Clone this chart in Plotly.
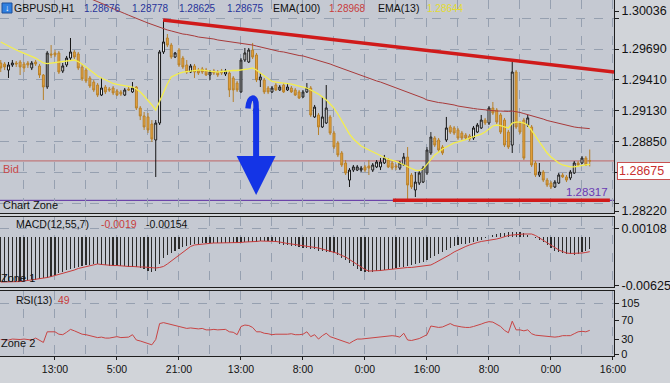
import plotly.graph_objects as go

# ---------------- data ----------------
bars = list(range(153))

open_ = [1.29564, 1.29555, 1.29500, 1.29546, 1.29564, 1.29573, 1.29555, 1.29564, 1.29519, 1.29573,
         1.29537, 1.29455, 1.29346, 1.29646, 1.29655, 1.29655, 1.29491, 1.29546, 1.29609, 1.29664,
         1.29646, 1.29528, 1.29500, 1.29428, 1.29391, 1.29364, 1.29273, 1.29346, 1.29328, 1.29337,
         1.29310, 1.29301, 1.29273, 1.29328, 1.29301, 1.29346, 1.29155, 1.29083, 1.29074, 1.29010,
         1.28865, 1.29019, 1.29664, 1.29791, 1.29727, 1.29618, 1.29682, 1.29609, 1.29546, 1.29482,
         1.29537, 1.29500, 1.29510, 1.29500, 1.29455, 1.29491, 1.29482, 1.29491, 1.29464, 1.29473,
         1.29428, 1.29382, 1.29301, 1.29591, 1.29573, 1.29682, 1.29637, 1.29410, 1.29410, 1.29337,
         1.29301, 1.29364, 1.29319, 1.29364, 1.29319, 1.29337, 1.29319, 1.29301, 1.29255, 1.29301,
         1.29337, 1.29074, 1.29092, 1.28983, 1.29019, 1.29074, 1.28928, 1.28838, 1.28747, 1.28656,
         1.28501, 1.28592, 1.28592, 1.28592, 1.28620, 1.28629, 1.28592, 1.28620, 1.28620, 1.28656,
         1.28683, 1.28656, 1.28629, 1.28610, 1.28638, 1.28710, 1.28547, 1.28411, 1.28474, 1.28483,
         1.28565, 1.28747, 1.28883, 1.28865, 1.28801, 1.28865, 1.28983, 1.28974, 1.28956, 1.28928,
         1.28910, 1.28901, 1.28883, 1.28937, 1.28974, 1.29046, 1.29019, 1.29155, 1.29137, 1.29092,
         1.29046, 1.28937, 1.28819, 1.29482, 1.29019, 1.29046, 1.29001, 1.28983, 1.28656, 1.28547,
         1.28574, 1.28501, 1.28474, 1.28438, 1.28474, 1.28547, 1.28529, 1.28520, 1.28565, 1.28656,
         1.28656, 1.28701, 1.28676]

high = [1.29591, 1.29573, 1.29573, 1.29591, 1.29582, 1.29591, 1.29573, 1.29582, 1.29582, 1.29591,
        1.29555, 1.29464, 1.29673, 1.29727, 1.29682, 1.29673, 1.29564, 1.29628, 1.29791, 1.29682,
        1.29664, 1.29555, 1.29519, 1.29446, 1.29410, 1.29382, 1.29428, 1.29364, 1.29346, 1.29355,
        1.29328, 1.29319, 1.29337, 1.29346, 1.29391, 1.29355, 1.29173, 1.29119, 1.29110, 1.29046,
        1.29046, 1.29682, 1.29954, 1.29827, 1.29746, 1.29664, 1.29700, 1.29628, 1.29591, 1.29555,
        1.29555, 1.29519, 1.29528, 1.29519, 1.29500, 1.29510, 1.29500, 1.29510, 1.29510, 1.29491,
        1.29446, 1.29401, 1.29609, 1.29700, 1.29700, 1.29746, 1.29655, 1.29473, 1.29428, 1.29355,
        1.29355, 1.29382, 1.29364, 1.29382, 1.29382, 1.29355, 1.29337, 1.29319, 1.29319, 1.29382,
        1.29355, 1.29183, 1.29110, 1.29255, 1.29364, 1.29092, 1.28947, 1.28856, 1.28765, 1.28683,
        1.28610, 1.28638, 1.28638, 1.28629, 1.28638, 1.28683, 1.28656, 1.28683, 1.28701, 1.28729,
        1.28701, 1.28674, 1.28647, 1.28674, 1.28747, 1.28801, 1.28565, 1.28574, 1.28583, 1.28629,
        1.28801, 1.28937, 1.28901, 1.28883, 1.28819, 1.29074, 1.29001, 1.28992, 1.28974, 1.28947,
        1.28928, 1.28919, 1.28992, 1.29019, 1.29092, 1.29065, 1.29173, 1.29210, 1.29155, 1.29110,
        1.29065, 1.28956, 1.29573, 1.29500, 1.29037, 1.29065, 1.29092, 1.29001, 1.28674, 1.28656,
        1.28592, 1.28520, 1.28492, 1.28501, 1.28565, 1.28565, 1.28547, 1.28592, 1.28674, 1.28674,
        1.28719, 1.28719, 1.28778]

low = [1.29482, 1.29500, 1.29428, 1.29528, 1.29528, 1.29455, 1.29482, 1.29519, 1.29500, 1.29537,
       1.29428, 1.29228, 1.29328, 1.29609, 1.29618, 1.29464, 1.29473, 1.29528, 1.29591, 1.29600,
       1.29500, 1.29401, 1.29382, 1.29337, 1.29301, 1.29255, 1.29264, 1.29282, 1.29301, 1.29273,
       1.29264, 1.29264, 1.29264, 1.29310, 1.29292, 1.29137, 1.29046, 1.28956, 1.28928, 1.28847,
       1.28529, 1.29001, 1.29646, 1.29709, 1.29600, 1.29609, 1.29528, 1.29510, 1.29464, 1.29473,
       1.29428, 1.29455, 1.29464, 1.29446, 1.29410, 1.29455, 1.29437, 1.29455, 1.29446, 1.29255,
       1.29210, 1.29301, 1.29292, 1.29573, 1.29564, 1.29600, 1.29391, 1.29346, 1.29282, 1.29282,
       1.29292, 1.29310, 1.29310, 1.29292, 1.29310, 1.29292, 1.29264, 1.29237, 1.29246, 1.29292,
       1.29074, 1.29065, 1.28910, 1.28974, 1.29010, 1.28910, 1.28783, 1.28710, 1.28620, 1.28547,
       1.28438, 1.28574, 1.28583, 1.28574, 1.28574, 1.28547, 1.28574, 1.28610, 1.28592, 1.28647,
       1.28610, 1.28592, 1.28592, 1.28592, 1.28629, 1.28320, 1.28420, 1.28347, 1.28456, 1.28474,
       1.28547, 1.28729, 1.28801, 1.28756, 1.28729, 1.28847, 1.28919, 1.28910, 1.28865, 1.28865,
       1.28865, 1.28856, 1.28865, 1.28928, 1.28965, 1.29001, 1.29001, 1.29092, 1.29010, 1.28919,
       1.28801, 1.28783, 1.28747, 1.28965, 1.28919, 1.28683, 1.28983, 1.28620, 1.28529, 1.28529,
       1.28483, 1.28438, 1.28420, 1.28429, 1.28465, 1.28520, 1.28483, 1.28501, 1.28556, 1.28629,
       1.28647, 1.28629, 1.28625]

close = [1.29519, 1.29528, 1.29546, 1.29564, 1.29555, 1.29528, 1.29519, 1.29546, 1.29564, 1.29555,
         1.29455, 1.29346, 1.29655, 1.29637, 1.29637, 1.29482, 1.29537, 1.29609, 1.29664, 1.29618,
         1.29519, 1.29419, 1.29401, 1.29355, 1.29319, 1.29273, 1.29337, 1.29301, 1.29319, 1.29292,
         1.29273, 1.29282, 1.29319, 1.29319, 1.29337, 1.29155, 1.29083, 1.28983, 1.28956, 1.28874,
         1.29019, 1.29664, 1.29755, 1.29727, 1.29618, 1.29655, 1.29546, 1.29528, 1.29482, 1.29537,
         1.29482, 1.29473, 1.29482, 1.29455, 1.29482, 1.29473, 1.29455, 1.29473, 1.29491, 1.29319,
         1.29319, 1.29319, 1.29591, 1.29655, 1.29682, 1.29618, 1.29410, 1.29437, 1.29301, 1.29301,
         1.29337, 1.29319, 1.29346, 1.29301, 1.29346, 1.29301, 1.29273, 1.29246, 1.29301, 1.29337,
         1.29092, 1.29164, 1.28983, 1.29074, 1.29155, 1.28928, 1.28801, 1.28729, 1.28638, 1.28565,
         1.28592, 1.28620, 1.28620, 1.28610, 1.28592, 1.28610, 1.28638, 1.28665, 1.28665, 1.28701,
         1.28620, 1.28610, 1.28620, 1.28656, 1.28710, 1.28456, 1.28438, 1.28483, 1.28565, 1.28610,
         1.28774, 1.28892, 1.28819, 1.28774, 1.28747, 1.28974, 1.28937, 1.28928, 1.28883, 1.28883,
         1.28883, 1.28874, 1.28974, 1.29001, 1.29046, 1.29019, 1.29155, 1.29110, 1.29028, 1.28937,
         1.28819, 1.28801, 1.29482, 1.28983, 1.28937, 1.28701, 1.29065, 1.28638, 1.28547, 1.28574,
         1.28501, 1.28456, 1.28438, 1.28483, 1.28547, 1.28529, 1.28501, 1.28574, 1.28656, 1.28638,
         1.28701, 1.28638, 1.28675]

# bullish bars the platform paints grey instead of white
grey_bars = [12, 62, 78, 110, 111]

ema100 = [1.30463, 1.30449, 1.30436, 1.30422, 1.30408, 1.30395, 1.30381, 1.30368, 1.30354, 1.30340,
          1.30327, 1.30313, 1.30299, 1.30286, 1.30272, 1.30259, 1.30245, 1.30231, 1.30218, 1.30204,
          1.30190, 1.30177, 1.30163, 1.30150, 1.30136, 1.30122, 1.30109, 1.30091, 1.30072, 1.30059,
          1.30045, 1.30027, 1.30013, 1.29998, 1.29982, 1.29968, 1.29954, 1.29941, 1.29927, 1.29914,
          1.29900, 1.29891, 1.29873, 1.29864, 1.29855, 1.29845, 1.29836, 1.29827, 1.29823, 1.29818,
          1.29809, 1.29800, 1.29796, 1.29791, 1.29786, 1.29782, 1.29773, 1.29768, 1.29764, 1.29759,
          1.29755, 1.29750, 1.29746, 1.29741, 1.29736, 1.29727, 1.29718, 1.29709, 1.29700, 1.29691,
          1.29682, 1.29677, 1.29668, 1.29664, 1.29655, 1.29646, 1.29641, 1.29632, 1.29628, 1.29618,
          1.29609, 1.29600, 1.29591, 1.29578, 1.29564, 1.29555, 1.29541, 1.29528, 1.29514, 1.29500,
          1.29491, 1.29478, 1.29464, 1.29450, 1.29437, 1.29428, 1.29414, 1.29401, 1.29391, 1.29378,
          1.29364, 1.29355, 1.29341, 1.29328, 1.29314, 1.29301, 1.29287, 1.29273, 1.29260, 1.29246,
          1.29228, 1.29219, 1.29210, 1.29205, 1.29201, 1.29196, 1.29192, 1.29183, 1.29173, 1.29169,
          1.29164, 1.29155, 1.29151, 1.29146, 1.29142, 1.29137, 1.29137, 1.29133, 1.29128, 1.29128,
          1.29124, 1.29124, 1.29128, 1.29124, 1.29115, 1.29105, 1.29096, 1.29087, 1.29074, 1.29065,
          1.29055, 1.29042, 1.29033, 1.29024, 1.29015, 1.29006, 1.28996, 1.28992, 1.28983, 1.28978,
          1.28974, 1.28969, 1.28968]

ema13 = [1.29755, 1.29736, 1.29718, 1.29700, 1.29682, 1.29668, 1.29655, 1.29641, 1.29628, 1.29609,
         1.29587, 1.29564, 1.29559, 1.29564, 1.29568, 1.29573, 1.29577, 1.29582, 1.29591, 1.29591,
         1.29577, 1.29555, 1.29528, 1.29500, 1.29473, 1.29446, 1.29428, 1.29410, 1.29391, 1.29378,
         1.29369, 1.29364, 1.29355, 1.29351, 1.29346, 1.29328, 1.29301, 1.29264, 1.29228, 1.29183,
         1.29137, 1.29219, 1.29292, 1.29373, 1.29437, 1.29455, 1.29469, 1.29482, 1.29487, 1.29491,
         1.29496, 1.29500, 1.29500, 1.29496, 1.29491, 1.29487, 1.29482, 1.29487, 1.29491, 1.29491,
         1.29496, 1.29496, 1.29500, 1.29500, 1.29510, 1.29519, 1.29500, 1.29473, 1.29446, 1.29419,
         1.29396, 1.29391, 1.29387, 1.29382, 1.29382, 1.29373, 1.29364, 1.29355, 1.29346, 1.29337,
         1.29319, 1.29301, 1.29282, 1.29255, 1.29228, 1.29192, 1.29155, 1.29101, 1.29037, 1.28974,
         1.28919, 1.28874, 1.28838, 1.28810, 1.28792, 1.28774, 1.28756, 1.28738, 1.28719, 1.28706,
         1.28692, 1.28683, 1.28670, 1.28656, 1.28638, 1.28620, 1.28606, 1.28592, 1.28588, 1.28601,
         1.28647, 1.28692, 1.28729, 1.28756, 1.28783, 1.28801, 1.28819, 1.28838, 1.28847, 1.28856,
         1.28869, 1.28883, 1.28892, 1.28906, 1.28919, 1.28937, 1.28965, 1.28992, 1.29001, 1.28996,
         1.28983, 1.28974, 1.29019, 1.29028, 1.29028, 1.29019, 1.29001, 1.28956, 1.28901, 1.28847,
         1.28792, 1.28747, 1.28710, 1.28683, 1.28656, 1.28638, 1.28629, 1.28620, 1.28620, 1.28624,
         1.28629, 1.28638, 1.28644]

macd_hist = [-0.00580, -0.00580, -0.00580, -0.00580, -0.00580, -0.00574, -0.00567, -0.00560, -0.00554, -0.00548,
             -0.00541, -0.00529, -0.00522, -0.00510, -0.00490, -0.00470, -0.00451, -0.00426, -0.00413, -0.00400,
             -0.00387, -0.00374, -0.00361, -0.00355, -0.00348, -0.00348, -0.00355, -0.00361, -0.00368, -0.00374,
             -0.00374, -0.00380, -0.00380, -0.00387, -0.00387, -0.00393, -0.00400, -0.00413, -0.00439, -0.00451,
             -0.00439, -0.00348, -0.00271, -0.00233, -0.00207, -0.00175, -0.00156, -0.00136, -0.00117, -0.00104,
             -0.00091, -0.00085, -0.00078, -0.00078, -0.00078, -0.00078, -0.00078, -0.00078, -0.00078, -0.00078,
             -0.00078, -0.00078, -0.00072, -0.00066, -0.00066, -0.00066, -0.00066, -0.00059, -0.00053, -0.00053,
             -0.00059, -0.00072, -0.00085, -0.00104, -0.00110, -0.00117, -0.00123, -0.00130, -0.00143, -0.00149,
             -0.00156, -0.00162, -0.00175, -0.00181, -0.00188, -0.00200, -0.00207, -0.00233, -0.00271, -0.00297,
             -0.00336, -0.00374, -0.00413, -0.00439, -0.00451, -0.00451, -0.00445, -0.00439, -0.00432, -0.00426,
             -0.00419, -0.00413, -0.00400, -0.00393, -0.00387, -0.00380, -0.00361, -0.00348, -0.00336, -0.00323,
             -0.00297, -0.00265, -0.00246, -0.00220, -0.00194, -0.00168, -0.00143, -0.00123, -0.00104, -0.00091,
             -0.00085, -0.00078, -0.00066, -0.00053, -0.00040, -0.00020, 0.00000, 0.00018, 0.00037, 0.00044,
             0.00050, 0.00057, 0.00063, 0.00063, 0.00057, 0.00044, 0.00024, 0.00005, -0.00020, -0.00040,
             -0.00072, -0.00104, -0.00143, -0.00175, -0.00194, -0.00207, -0.00220, -0.00226, -0.00233, -0.00220,
             -0.00200, -0.00180, -0.00158]

macd_signal = [-0.00580, -0.00580, -0.00580, -0.00580, -0.00580, -0.00574, -0.00567, -0.00560, -0.00554, -0.00548,
               -0.00541, -0.00535, -0.00522, -0.00510, -0.00497, -0.00477, -0.00464, -0.00451, -0.00439, -0.00426,
               -0.00406, -0.00393, -0.00380, -0.00368, -0.00355, -0.00348, -0.00355, -0.00361, -0.00361, -0.00368,
               -0.00368, -0.00374, -0.00374, -0.00380, -0.00380, -0.00387, -0.00387, -0.00387, -0.00393, -0.00393,
               -0.00400, -0.00393, -0.00380, -0.00348, -0.00310, -0.00271, -0.00233, -0.00188, -0.00149, -0.00123,
               -0.00104, -0.00098, -0.00091, -0.00085, -0.00085, -0.00078, -0.00078, -0.00078, -0.00078, -0.00078,
               -0.00078, -0.00072, -0.00072, -0.00066, -0.00066, -0.00059, -0.00059, -0.00053, -0.00053, -0.00053,
               -0.00053, -0.00059, -0.00066, -0.00078, -0.00085, -0.00091, -0.00098, -0.00104, -0.00110, -0.00117,
               -0.00130, -0.00136, -0.00143, -0.00156, -0.00168, -0.00181, -0.00194, -0.00213, -0.00239, -0.00258,
               -0.00291, -0.00323, -0.00361, -0.00393, -0.00419, -0.00439, -0.00439, -0.00432, -0.00432, -0.00426,
               -0.00419, -0.00413, -0.00406, -0.00400, -0.00400, -0.00393, -0.00393, -0.00387, -0.00387, -0.00380,
               -0.00374, -0.00361, -0.00336, -0.00310, -0.00284, -0.00258, -0.00226, -0.00194, -0.00168, -0.00143,
               -0.00123, -0.00104, -0.00085, -0.00072, -0.00059, -0.00053, -0.00046, -0.00040, -0.00027, -0.00014,
               0.00005, 0.00018, 0.00024, 0.00031, 0.00037, 0.00037, 0.00037, 0.00037, 0.00018, -0.00014,
               -0.00046, -0.00078, -0.00110, -0.00143, -0.00168, -0.00188, -0.00207, -0.00213, -0.00213, -0.00213,
               -0.00207, -0.00200, -0.00190]

rsi = [30, 30, 29, 31, 30, 30, 31, 30, 29, 33,
       28, 24, 46, 46, 46, 41, 40, 45, 51, 48,
       45, 41, 40, 38, 36, 34, 35, 33, 33, 35,
       36, 34, 34, 35, 40, 29, 27, 24, 22, 19,
       30, 63, 65, 63, 60, 59, 57, 55, 53, 54,
       53, 52, 53, 50, 50, 51, 50, 50, 51, 46,
       45, 40, 57, 60, 59, 55, 46, 46, 43, 42,
       40, 41, 41, 40, 41, 42, 40, 40, 41, 46,
       36, 40, 31, 38, 43, 36, 33, 30, 27, 25,
       22, 27, 31, 31, 32, 32, 33, 34, 35, 36,
       37, 38, 37, 35, 43, 29, 28, 30, 32, 36,
       40, 58, 56, 55, 56, 60, 63, 59, 57, 56,
       55, 55, 57, 59, 62, 65, 67, 66, 62, 57,
       49, 44, 68, 50, 50, 48, 50, 42, 39, 38,
       38, 37, 35, 35, 36, 38, 38, 38, 42, 46,
       47, 46, 49]

time_label_bars = [14, 30, 46, 62, 78, 94, 110, 126, 142, 158]
time_labels = ["13:00", "5:00", "21:00", "13:00", "8:00", "0:00", "16:00", "8:00", "0:00", "16:00"]
minor_grid_bars = [6, 22, 38, 54, 70, 86, 102, 118, 134, 150]

price_grid = [1.29970, 1.29690, 1.29410, 1.29130, 1.28850, 1.28570, 1.28290]
price_grid_text = ["", "1.29690", "1.29410", "1.29130", "1.28850", "", ""]
price_edge = [1.30036, 1.28220]

bid_price = 1.28675
zone_price = 1.28317
upper_trend_x = [41.9, 158.26]
upper_trend_y = [1.29954, 1.29482]
lower_trend_x = [101.2, 157.2]
lower_trend_y = [1.28317, 1.28317]

# ---------------- layout helpers ----------------
W, H = 670, 383
ML, MR, MT, MB = 0, 56, 0, 27
PW, PH = W - ML - MR, H - MT - MB
X_RANGE = [-0.19, 158.26]
FONT = "Liberation Sans"
GRID = "#96a0b0"
AXC = "#1e1e1e"


def px(x):
    return x / PW


def py(y):
    return 1 - y / PH


def pick(seq, keep):
    return [v for i, v in enumerate(seq) if (i in grey_bars) == keep]


fig = go.Figure()

for keep, inc_fill, inc_line in ((False, "#ffffff", "#151515"), (True, "#8c8e92", "#2a2a2a")):
    fig.add_trace(go.Candlestick(
        x=pick(bars, keep), open=pick(open_, keep), high=pick(high, keep),
        low=pick(low, keep), close=pick(close, keep),
        xaxis="x", yaxis="y", whiskerwidth=0,
        increasing=dict(line=dict(color=inc_line, width=1), fillcolor=inc_fill),
        decreasing=dict(line=dict(color="#b7802a", width=1), fillcolor="#e9a43c"),
        showlegend=False, hoverinfo="skip"))

fig.add_trace(go.Scatter(x=bars, y=ema100, mode="lines", line=dict(color="#a83a3a", width=1),
                         xaxis="x", yaxis="y", hoverinfo="skip"))
fig.add_trace(go.Scatter(x=bars, y=ema13, mode="lines", line=dict(color="#f4ee4c", width=1.3),
                         xaxis="x", yaxis="y", hoverinfo="skip"))
fig.add_trace(go.Scatter(x=upper_trend_x, y=upper_trend_y, mode="lines",
                         line=dict(color="#d01a1a", width=3.5), xaxis="x", yaxis="y", hoverinfo="skip"))
fig.add_trace(go.Scatter(x=lower_trend_x, y=lower_trend_y, mode="lines",
                         line=dict(color="#d01a1a", width=3.5), xaxis="x", yaxis="y4", hoverinfo="skip"))

fig.add_trace(go.Bar(x=bars, y=macd_hist, width=0.32, marker=dict(color="#2b2b2b", line=dict(width=0)),
                     xaxis="x2", yaxis="y2", hoverinfo="skip"))
fig.add_trace(go.Scatter(x=bars, y=macd_signal, mode="lines", line=dict(color="#c83c3c", width=1),
                         xaxis="x2", yaxis="y2", hoverinfo="skip"))
fig.add_trace(go.Scatter(x=[None], y=[None], xaxis="x2", yaxis="y5", hoverinfo="skip"))

fig.add_trace(go.Scatter(x=bars, y=rsi, mode="lines", line=dict(color="#c84444", width=1),
                         xaxis="x3", yaxis="y3", hoverinfo="skip"))
fig.add_trace(go.Scatter(x=[None], y=[None], xaxis="x3", yaxis="y6", hoverinfo="skip"))

main_dom = [py(213), 1]
macd_dom = [py(287), py(216.5)]
rsi_dom = [0, py(290.5)]


def xax(anchor, labels, mirror):
    d = dict(anchor=anchor, domain=[0, 1], range=X_RANGE, showgrid=True, gridcolor=GRID,
             griddash="dash", gridwidth=1, zeroline=False, tickmode="array",
             tickvals=time_label_bars, ticktext=time_labels,
             minor=dict(tickmode="array", tickvals=minor_grid_bars, showgrid=True,
                        gridcolor=GRID, griddash="dash", gridwidth=1, ticks=""),
             showline=True, linecolor=AXC, linewidth=1, mirror=mirror,
             showticklabels=labels, ticks="outside" if labels else "",
             ticklen=3, tickcolor=AXC, tickfont=dict(family=FONT, size=10.5, color="#111"),
             fixedrange=True, rangeslider=dict(visible=False))
    if anchor != "y":
        d["matches"] = "x"
    return d


def yax(dom, rng, vals, text, grid, anchor="x", overlay=None, size=12.5):
    d = dict(domain=dom, range=rng, side="right", anchor=anchor, tickmode="array",
             tickvals=vals, ticktext=text, showgrid=grid, gridcolor=GRID, griddash="dash",
             gridwidth=1, zeroline=False, showline=overlay is None, linecolor=AXC, linewidth=1,
             ticks="outside", ticklen=4, tickcolor=AXC,
             tickfont=dict(family=FONT, size=size, color="#111"), fixedrange=True)
    if overlay:
        d["overlaying"] = overlay
        d.pop("domain")
    return d


main_rng = [1.28202, 1.30136]
macd_rng = [-0.00644, 0.00262]
rsi_rng = [-4.1, 131.5]

fig.update_layout(
    width=W, height=H, margin=dict(l=ML, r=MR, t=MT, b=MB, pad=0),
    paper_bgcolor="#d1d4d9", plot_bgcolor="#c5c9d2",
    showlegend=False, hovermode=False, dragmode=False, bargap=0,
    xaxis=xax("y", False, False),
    xaxis2=xax("y2", False, True),
    xaxis3=xax("y3", True, True),
    yaxis=yax(main_dom, main_rng, price_grid, price_grid_text, True),
    yaxis4=yax(None, main_rng, price_edge, ["1.30036", "1.28220"], False, overlay="y"),
    yaxis2=yax(macd_dom, macd_rng, [0.00108], ["0.00108"], True, anchor="x2"),
    yaxis5=yax(None, macd_rng, [-0.00625], ["-0.00625"], False, anchor="x2", overlay="y2"),
    yaxis3=yax(rsi_dom, rsi_rng, [105], ["105"], True, anchor="x3", size=11),
    yaxis6=yax(None, rsi_rng, [70, 30, 0], ["70", "30", "0"], False, anchor="x3", overlay="y3", size=11),
)

shapes = [
    dict(type="line", xref="paper", yref="y", x0=0, x1=1, y0=bid_price, y1=bid_price,
         line=dict(color="#c06464", width=1), layer="below"),
    dict(type="line", xref="paper", yref="y", x0=0, x1=1, y0=zone_price, y1=zone_price,
         line=dict(color="#5a2aa0", width=1), layer="below"),
    # header icon
    dict(type="rect", xref="paper", yref="paper", x0=px(2), x1=px(12), y0=py(13), y1=py(3),
         fillcolor="#2f7fe0", line=dict(color="#1d4f9a", width=1)),
    # hook on top of the blue arrow
    dict(type="path", xref="x", yref="y",
         path="M 65.9,1.29100 L 65.9,1.29175 Q 65.9,1.29250 64.9,1.29245 Q 64.0,1.29240 63.8,1.29150",
         line=dict(color="#1434e6", width=5.5)),
]
fig.update_layout(shapes=shapes)

annotations = []


def ann(text, x, y, color="#111", size=11, xanchor="left", **kw):
    annotations.append(dict(text=text, xref="paper", yref="paper", x=px(x), y=py(y),
                            xanchor=xanchor, yanchor="middle", showarrow=False,
                            font=dict(family=FONT, size=size, color=color), **kw))


ann("&#8595;", 3.2, 8, color="#ffffff", size=9)
ann("GBPUSD,H1", 12, 8, size=10.5)
ann("1.28676", 82, 8, color="#27349a", size=10)
ann("1.28778", 130, 8, color="#27349a", size=10)
ann("1.28625", 177, 8, color="#27349a", size=10)
ann("1.28675", 225, 8, color="#27349a", size=10)
ann("EMA(100)", 271, 8, size=10.5)
ann("1.28968", 327, 8, color="#c83c3c", size=10)
ann("EMA(13)", 376, 8, size=10.5)
ann("1.28644", 425, 8, color="#e4dc30", size=10)

ann("Bid", 1, 169, color="#c84848", size=11)
ann("Chart Zone", 1, 204.5, size=11)
ann("1.28317", 610, 192, color="#6a3ab2", size=11.5, xanchor="right")

ann("MACD(12,55,7)", 14, 224, size=10.5)
ann("-0.0019", 99, 224, color="#c83c3c", size=10.5)
ann("-0.00154", 144, 224, size=10.5)
ann("Zone 1", -1, 278, size=11)

ann("RSI(13)", 14, 300, size=10.5)
ann("49", 56, 300, color="#c83c3c", size=10.5)
ann("Zone 2", -1, 343, size=11)

# bid price tag on the axis
annotations.append(dict(text="1.28675", xref="paper", yref="y", x=px(617), y=bid_price,
                        xanchor="left", yanchor="top", showarrow=False, yshift=-1,
                        font=dict(family=FONT, size=12.5, color="#c83030"),
                        bgcolor="#ffffff", bordercolor="#c85050", borderwidth=1, borderpad=1,
                        width=52, align="left"))

# blue arrow
annotations.append(dict(text="", x=65.9, y=1.28365, xref="x", yref="y", showarrow=True,
                        ax=0, ay=-88, axref="pixel", ayref="pixel", arrowhead=2,
                        arrowsize=1.3, arrowwidth=6, arrowcolor="#1434e6", standoff=0))
fig.update_layout(annotations=annotations)

fig.write_html("out.html", include_plotlyjs=True, full_html=True,
               config=dict(displayModeBar=False, staticPlot=True))
